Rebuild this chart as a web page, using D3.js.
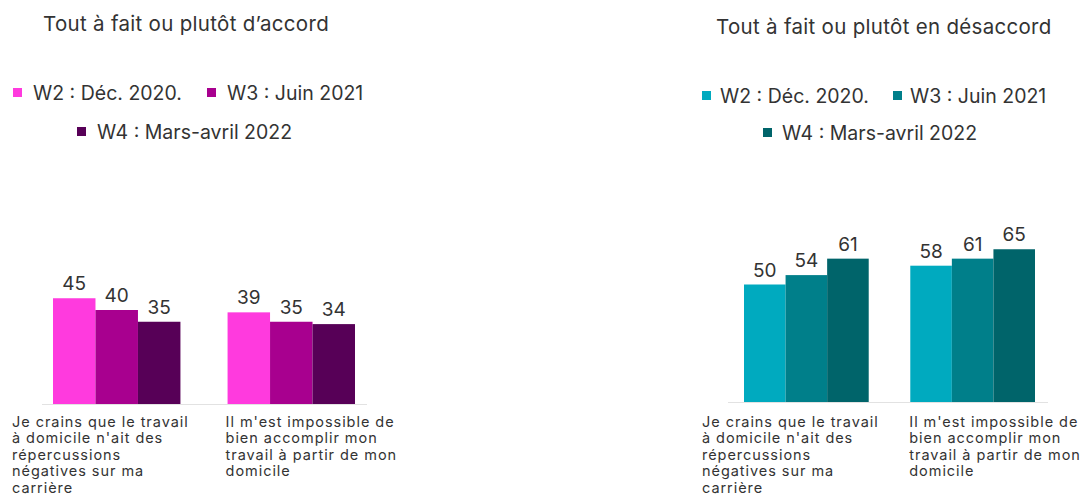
<!DOCTYPE html>
<html>
<head>
<meta charset="utf-8">
<script src="https://cdn.jsdelivr.net/npm/d3@7"></script>
<style>
  html, body { margin: 0; padding: 0; background: #fff; }
  svg { display: block; font-family: Inter, "Noto Sans", sans-serif; }
</style>
</head>
<body>
<svg id="chart" width="1084" height="497"></svg>
<script>
// ---- data ----
const categories = [
  "Je crains que le travail à domicile n'ait des répercussions négatives sur ma carrière",
  "Il m'est impossible de bien accomplir mon travail à partir de mon domicile"
];
const categoryLines = [
  ["Je crains que le travail", "à domicile n'ait des", "répercussions", "négatives sur ma", "carrière"],
  ["Il m'est impossible de", "bien accomplir mon", "travail à partir de mon", "domicile"]
];
const seriesNames = ["W2 : Déc. 2020.", "W3 : Juin 2021", "W4 : Mars-avril 2022"];
const panelTitles = ["Tout à fait ou plutôt d’accord", "Tout à fait ou plutôt en désaccord"];

// values by series, one per category
const agreeW2 = [45, 39];
const agreeW3 = [40, 35];
const agreeW4 = [35, 34];
const disagreeW2 = [50, 58];
const disagreeW3 = [54, 61];
const disagreeW4 = [61, 65];

const agreeColors = ["#ff3ade", "#a8008f", "#570057"];
const disagreeColors = ["#00aabf", "#007f8a", "#00646a"];

// ---- layout ----
const svg = d3.select("#chart");
const textColor = "#333";

const panels = [
  {
    title: panelTitles[0], titleX: 43, titleY: 31,
    series: [agreeW2, agreeW3, agreeW4], colors: agreeColors,
    legend: [{x: 13, y: 88, tx: 33}, {x: 207, y: 88, tx: 227}, {x: 77, y: 127, tx: 97}],
    range: [53, 355], padInner: 0.27, baseline: 404, axis: [42, 367],
    labelOffsets: [-41, -2]
  },
  {
    title: panelTitles[1], titleX: 716, titleY: 34,
    series: [disagreeW2, disagreeW3, disagreeW4], colors: disagreeColors,
    legend: [{x: 702, y: 91, tx: 720}, {x: 893, y: 91, tx: 910}, {x: 763, y: 128, tx: 782}],
    range: [744, 1035], padInner: 0.25, baseline: 402, axis: [728, 1048],
    labelOffsets: [-42, -1]
  }
];

panels.forEach(p => {
  const g = svg.append("g");

  g.append("text")
    .attr("x", p.titleX).attr("y", p.titleY)
    .attr("font-size", 20.5).attr("letter-spacing", 0.3).attr("fill", textColor)
    .text(p.title);

  // legend
  seriesNames.forEach((name, i) => {
    const L = p.legend[i];
    g.append("rect").attr("x", L.x).attr("y", L.y).attr("width", 9).attr("height", 9)
      .attr("fill", p.colors[i]);
    g.append("text").attr("x", L.tx).attr("y", L.y + 12)
      .attr("font-size", 19.5).attr("fill", textColor).text(name);
  });

  const x0 = d3.scaleBand().domain(categories).range(p.range)
    .paddingInner(p.padInner).paddingOuter(0);
  const x1 = d3.scaleBand().domain(d3.range(seriesNames.length)).range([0, x0.bandwidth()]).padding(0);
  const y = d3.scaleLinear().domain([0, 100]).range([p.baseline, p.baseline - 235]);

  const data = [];
  categories.forEach((c, ci) => {
    p.series.forEach((s, si) => data.push({cat: c, si, v: s[ci]}));
  });

  g.selectAll("rect.bar").data(data).enter().append("rect")
    .attr("class", "bar")
    .attr("x", d => x0(d.cat) + x1(d.si))
    .attr("width", x1.bandwidth())
    .attr("y", d => y(d.v))
    .attr("height", d => y(0) - y(d.v))
    .attr("fill", d => p.colors[d.si]);

  g.selectAll("text.val").data(data).enter().append("text")
    .attr("class", "val")
    .attr("x", d => x0(d.cat) + x1(d.si) + x1.bandwidth() / 2)
    .attr("y", d => y(d.v) - 8)
    .attr("text-anchor", "middle")
    .attr("font-size", 19).attr("fill", textColor)
    .text(d => d.v);

  g.append("line")
    .attr("x1", p.axis[0]).attr("x2", p.axis[1])
    .attr("y1", p.baseline + 0.5).attr("y2", p.baseline + 0.5)
    .attr("stroke", "#e2e2e2").attr("stroke-width", 1);

  categories.forEach((c, ci) => {
    const t = g.append("text")
      .attr("x", x0(c) + p.labelOffsets[ci]).attr("y", 426.5)
      .attr("font-size", 14.5).attr("letter-spacing", 0.95).attr("fill", textColor);
    categoryLines[ci].forEach((line, li) => {
      t.append("tspan").attr("x", x0(c) + p.labelOffsets[ci]).attr("dy", li === 0 ? 0 : 16.6).text(line);
    });
  });
});
</script>
</body>
</html>
